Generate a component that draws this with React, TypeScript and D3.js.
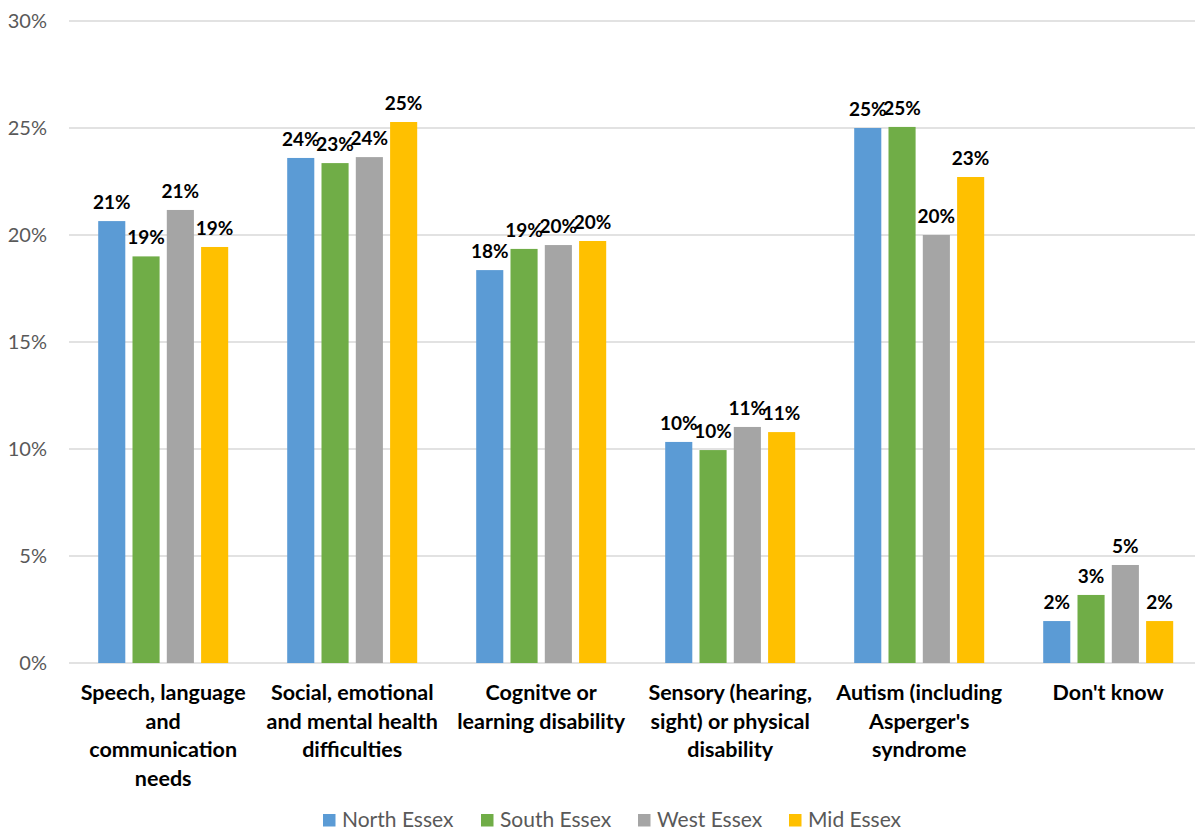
import React from "react";
import * as d3 from "d3";

const categories: string[][] = [
  ["Speech, language", "and", "communication", "needs"],
  ["Social, emotional", "and mental health", "difficulties"],
  ["Cognitve or", "learning disability"],
  ["Sensory (hearing,", "sight) or physical", "disability"],
  ["Autism (including", "Asperger's", "syndrome"],
  ["Don't know"],
];

const seriesNames = ["North Essex", "South Essex", "West Essex", "Mid Essex"];
const seriesColors = ["#5B9BD5", "#70AD47", "#A5A5A5", "#FFC000"];

const northEssex = [0.2065, 0.236, 0.1836, 0.1033, 0.25, 0.0196];
const southEssex = [0.19, 0.2336, 0.1935, 0.0995, 0.2505, 0.0318];
const westEssex = [0.2117, 0.2364, 0.1953, 0.1103, 0.2, 0.0458];
const midEssex = [0.1944, 0.2528, 0.1972, 0.1079, 0.2271, 0.0196];

const yTicks = [0, 0.05, 0.1, 0.15, 0.2, 0.25, 0.3];

const W = 1195;
const H = 833;
const FONT = "Lato, 'Open Sans', sans-serif";

export default function App() {
  const series = [northEssex, southEssex, westEssex, midEssex];
  const catIdx = categories.map((_, i) => String(i));

  const x0 = d3.scaleBand<string>().domain(catIdx).range([68.7, 1202.7]).padding(0);
  const x1 = d3
    .scaleBand<string>()
    .domain(seriesNames)
    .range([-65, 65])
    .paddingInner(0.21)
    .paddingOuter(0);
  const y = d3.scaleLinear().domain([0, 0.3]).range([663, 21]);
  const fmt = d3.format(".0%");

  // legend layout: swatch x positions along the bottom row
  const legendX = [323, 481, 638, 789];

  return (
    <svg
      width={W}
      height={H}
      style={{ position: "absolute", left: 0, top: 0, background: "#fff" }}
    >
      {/* gridlines and y-axis labels */}
      {yTicks.map((t) => (
        <g key={t}>
          <line x1={69} x2={W} y1={y(t)} y2={y(t)} stroke="#D9D9D9" strokeWidth={1.3} />
          <text
            x={47}
            y={y(t)}
            dy="0.36em"
            textAnchor="end"
            fontFamily={FONT}
            fontSize={20}
            fill="#595959"
          >
            {fmt(t)}
          </text>
        </g>
      ))}

      {/* bars */}
      {categories.map((_, ci) => {
        const cx = (x0(String(ci)) as number) + x0.bandwidth() / 2;
        return (
          <g key={ci} transform={`translate(${cx},0)`}>
            {series.map((vals, si) => {
              const bx = x1(seriesNames[si]) as number;
              const v = vals[ci];
              return (
                <g key={si}>
                  <rect
                    x={bx}
                    y={y(v)}
                    width={x1.bandwidth()}
                    height={y(0) - y(v)}
                    fill={seriesColors[si]}
                  />
                  <text
                    x={bx + x1.bandwidth() / 2}
                    y={y(v) - 12}
                    textAnchor="middle"
                    fontFamily={FONT}
                    fontWeight="bold"
                    fontSize={19}
                    fill="#000"
                  >
                    {fmt(v)}
                  </text>
                </g>
              );
            })}
          </g>
        );
      })}

      {/* category labels */}
      {categories.map((lines, ci) => {
        const cx = (x0(String(ci)) as number) + x0.bandwidth() / 2;
        return (
          <text
            key={ci}
            x={cx}
            y={700}
            textAnchor="middle"
            fontFamily={FONT}
            fontWeight="bold"
            fontSize={21.5}
            fill="#000"
          >
            {lines.map((l, li) => (
              <tspan key={li} x={cx} y={700 + li * 28.5}>
                {l}
              </tspan>
            ))}
          </text>
        );
      })}

      {/* legend */}
      {seriesNames.map((name, si) => {
        const lx = legendX[si];
        return (
          <g key={name}>
            <rect x={lx} y={814} width={12.5} height={12.5} fill={seriesColors[si]} />
            <text
              x={lx + 19}
              y={827}
              fontFamily={FONT}
              fontSize={21}
              fill="#595959"
            >
              {name}
            </text>
          </g>
        );
      })}
    </svg>
  );
}
